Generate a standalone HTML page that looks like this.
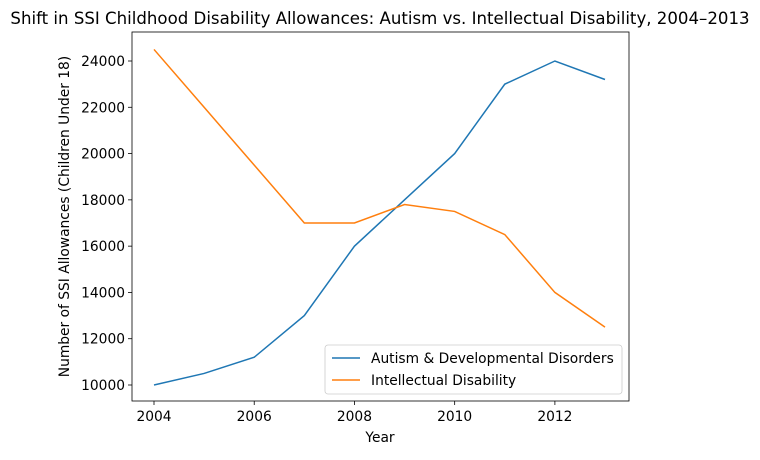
<!DOCTYPE html>
<html><head><meta charset="utf-8"><style>
body{margin:0;background:#fff;}
svg text{font-family:"DejaVu Sans","Liberation Sans",sans-serif;fill:#000;}
</style></head><body>
<svg id="chart" width="760" height="455" xmlns="http://www.w3.org/2000/svg"></svg>
<script>
const years=[2004,2005,2006,2007,2008,2009,2010,2011,2012,2013];
const autism=[10000,10500,11200,13000,16000,18000,20000,23000,24000,23200];
const intellectual=[24500,22000,19500,17000,17000,17800,17500,16500,14000,12500];
const xTicks=[2004,2006,2008,2010,2012];
const yTicks=[10000,12000,14000,16000,18000,20000,22000,24000];
const L=132,R=629,T=32,B=401;
const x=v=>154+(v-2004)*(605-154)/9;
const y=v=>385-(v-10000)*(385-61)/14000;
const svg=document.getElementById('chart');
const NS='http://www.w3.org/2000/svg';
function mk(tag,attrs,parent){const e=document.createElementNS(NS,tag);for(const k in attrs)e.setAttribute(k,attrs[k]);(parent||svg).appendChild(e);return e;}
let t=mk('text',{x:380,y:24,'text-anchor':'middle','font-size':16.6});t.textContent='Shift in SSI Childhood Disability Allowances: Autism vs. Intellectual Disability, 2004–2013';


xTicks.forEach(v=>{const g=mk('g',{});


mk('line',{x1:x(v),x2:x(v),y1:B,y2:B+4,stroke:'#000','stroke-width':0.8},g);
const tx=mk('text',{x:x(v),y:B+20,'text-anchor':'middle','font-size':13.8},g);tx.textContent=v;});
yTicks.forEach(v=>{const g=mk('g',{});


mk('line',{x1:L-4,x2:L,y1:y(v),y2:y(v),stroke:'#000','stroke-width':0.8},g);
const tx=mk('text',{x:L-7,y:y(v)+5,'text-anchor':'end','font-size':13.8},g);tx.textContent=v;});
t=mk('text',{x:380,y:442,'text-anchor':'middle','font-size':13.8});t.textContent='Year';


t=mk('text',{x:0,y:0,'text-anchor':'middle','font-size':13.8,transform:`translate(69,${(T+B)/2}) rotate(-90)`});t.textContent='Number of SSI Allowances (Children Under 18)';


function line(data,color,name){const p=mk('polyline',{points:data.map((v,i)=>x(years[i])+','+y(v)).join(' '),fill:'none',stroke:color,'stroke-width':1.5});

}
line(autism,'#1f77b4','autism-line');
line(intellectual,'#ff7f0e','intellectual-line');
const f=mk('rect',{x:L,y:T,width:R-L,height:B-T,fill:'none',stroke:'#000','stroke-width':0.8});


const lg=mk('g',{});


mk('rect',{x:325,y:345,width:297,height:49,rx:3,fill:'#fff',stroke:'#ccc','stroke-width':0.8},lg);
mk('line',{x1:332,x2:360,y1:358,y2:358,stroke:'#1f77b4','stroke-width':1.5},lg);
mk('line',{x1:332,x2:360,y1:380,y2:380,stroke:'#ff7f0e','stroke-width':1.5},lg);
t=mk('text',{x:371,y:363,'font-size':13.8},lg);t.textContent='Autism & Developmental Disorders';
t=mk('text',{x:371,y:385,'font-size':13.8},lg);t.textContent='Intellectual Disability';
</script>
</body></html>
